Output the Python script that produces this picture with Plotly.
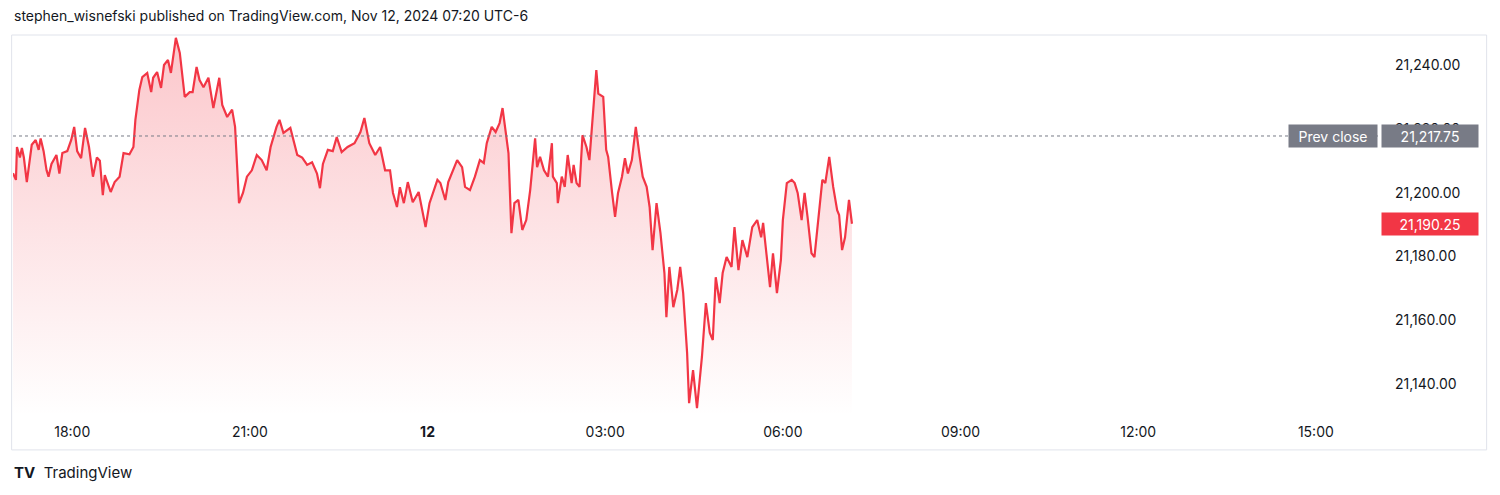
import datetime
import plotly.graph_objects as go

# minutes after Nov 11 17:00 (UTC-6)
minutes = [0, 3, 4, 7, 9, 11, 14, 16, 19, 23, 26, 28, 31, 34, 36, 39, 44, 47, 50, 55,
           59, 62, 65, 69, 73, 77, 81, 85, 88, 91, 93, 99, 103, 108, 112, 118, 122, 124, 128, 131,
           136, 140, 142, 146, 150, 153, 157, 160, 165, 169, 174, 179, 182, 186, 189, 193, 198, 203, 209, 212,
           217, 222, 225, 229, 233, 237, 242, 247, 252, 257, 261, 267, 270, 274, 281, 288, 293, 298, 303, 308,
           311, 314, 319, 324, 328, 333, 339, 346, 352, 356, 361, 367, 372, 377, 382, 385, 389, 392, 396, 400,
           405, 411, 415, 418, 422, 430, 433, 438, 441, 446, 450, 455, 458, 463, 468, 473, 477, 480, 485, 489,
           493, 496, 500, 502, 505, 508, 512, 516, 520, 524, 529, 531, 534, 538, 542, 546, 547, 551, 552, 556,
           559, 562, 566, 568, 571, 574, 577, 581, 584, 587, 591, 593, 598, 601, 603, 607, 610, 613, 617, 620,
           623, 627, 631, 635, 638, 642, 645, 648, 652, 656, 660, 662, 665, 669, 673, 676, 679, 683, 685, 689,
           693, 698, 702, 706, 709, 712, 716, 719, 723, 728, 731, 735, 739, 744, 749, 754, 758, 760, 764, 767,
           770, 774, 778, 780, 784, 789, 792, 795, 799, 802, 805, 809, 812, 816, 820, 823, 827, 831, 835, 837,
           840, 843, 847, 850]
prices = [21206.1, 21204.0, 21214.3, 21211.0, 21214.0, 21211.0, 21203.3, 21208.0, 21215.0, 21216.5,
          21213.4, 21217.0, 21213.0, 21207.0, 21205.0, 21209.0, 21211.8, 21206.0, 21212.4, 21213.0,
          21216.5, 21220.6, 21213.0, 21210.8, 21220.3, 21214.3, 21205.0, 21211.0, 21210.0, 21199.2,
          21205.5, 21200.2, 21203.3, 21205.0, 21212.4, 21212.0, 21214.3, 21222.8, 21232.2, 21236.2,
          21237.5, 21231.5, 21236.0, 21237.8, 21232.8, 21240.0, 21241.6, 21237.5, 21248.5, 21243.8,
          21230.0, 21231.5, 21231.5, 21239.4, 21235.3, 21233.0, 21236.0, 21226.5, 21236.0, 21227.5,
          21223.7, 21226.0, 21220.6, 21196.7, 21199.9, 21205.0, 21207.0, 21211.8, 21210.2, 21207.0,
          21214.3, 21220.6, 21222.8, 21218.7, 21220.3, 21211.8, 21211.0, 21208.7, 21209.5, 21206.0,
          21201.4, 21209.0, 21213.4, 21213.0, 21217.4, 21212.7, 21214.3, 21215.5, 21219.0, 21223.4,
          21215.5, 21211.8, 21214.3, 21207.0, 21207.0, 21199.9, 21195.5, 21201.7, 21196.7, 21203.3,
          21197.0, 21200.2, 21194.5, 21189.2, 21196.7, 21204.0, 21203.0, 21197.7, 21203.3, 21207.0,
          21210.2, 21208.0, 21201.8, 21200.8, 21205.0, 21210.2, 21209.3, 21215.5, 21220.6, 21219.0,
          21221.8, 21226.5, 21217.4, 21212.4, 21187.3, 21196.7, 21197.7, 21188.3, 21191.4, 21200.8,
          21217.0, 21208.0, 21211.2, 21207.0, 21205.0, 21215.5, 21205.0, 21203.0, 21196.7, 21205.0,
          21201.8, 21211.8, 21203.0, 21208.7, 21203.0, 21201.8, 21218.0, 21214.3, 21210.2, 21222.8,
          21238.4, 21231.0, 21230.0, 21213.4, 21211.2, 21199.9, 21192.4, 21199.9, 21205.0, 21210.8,
          21206.0, 21210.2, 21220.6, 21211.2, 21205.0, 21201.8, 21195.5, 21182.0, 21196.7, 21187.3,
          21174.8, 21161.0, 21176.7, 21164.1, 21169.5, 21176.7, 21168.5, 21149.7, 21134.0, 21144.4,
          21132.5, 21148.5, 21165.4, 21156.0, 21153.8, 21173.5, 21165.4, 21174.8, 21179.8, 21176.7,
          21189.2, 21175.7, 21185.1, 21179.8, 21189.2, 21191.4, 21186.0, 21190.5, 21178.9, 21170.4,
          21181.0, 21168.5, 21178.9, 21191.4, 21203.0, 21204.0, 21203.0, 21199.9, 21191.4, 21199.9,
          21192.4, 21181.0, 21179.8, 21192.4, 21204.0, 21203.0, 21211.2, 21201.8, 21194.5, 21193.0,
          21182.0, 21186.0, 21197.7, 21190.25]

prev_close = 21217.75
last_price = 21190.25
y_ticks = [21140, 21160, 21180, 21200, 21220, 21240]
x_tick_labels = ["18:00", "21:00", "<b>12</b>", "03:00", "06:00", "09:00", "12:00", "15:00"]

start = datetime.datetime(2024, 11, 11, 17, 0)
times = [start + datetime.timedelta(minutes=m) for m in minutes]
x_ticks = [datetime.datetime(2024, 11, 11, 18) + datetime.timedelta(hours=3 * i) for i in range(len(x_tick_labels))]

y_lo, y_hi = 21130.0, 21249.4
x_lo = start
x_hi = start + datetime.timedelta(minutes=1385)

red = "#F23645"
font = "Inter, Roboto, sans-serif"

fig = go.Figure()
fig.add_trace(go.Scatter(x=times, y=[y_lo] * len(times), mode="lines",
                         line=dict(width=0), hoverinfo="skip", showlegend=False))
fig.add_trace(go.Scatter(
    x=times, y=prices, mode="lines", line=dict(color=red, width=2.2),
    fill="tonexty",
    fillgradient=dict(type="vertical",
                      colorscale=[[0, "rgba(242,54,69,0.0)"], [1, "rgba(242,54,69,0.28)"]]),
    showlegend=False))

fig.add_shape(type="line", xref="paper", yref="y", x0=0, x1=1, y0=prev_close, y1=prev_close,
              line=dict(color="#787B86", width=1, dash="dot"))
# outer frame
fig.add_shape(type="rect", xref="paper", yref="paper", x0=-0.001, x1=1.078, y0=-0.089, y1=1,
              line=dict(color="#E0E3EB", width=1))

box_font = dict(color="white", size=14, family=font)
fig.add_annotation(xref="paper", yref="y", x=0.9985, y=prev_close, xanchor="right",
                   text="Prev close", showarrow=False, bgcolor="#787B86",
                   font=box_font, width=86, height=20)
fig.add_annotation(xref="paper", yref="y", x=1.001, y=prev_close, xanchor="left",
                   text=f"{prev_close:,.2f}", showarrow=False, bgcolor="#787B86",
                   font=box_font, width=94, height=20)
fig.add_annotation(xref="paper", yref="y", x=1.001, y=last_price, xanchor="left",
                   text=f"{last_price:,.2f}", showarrow=False, bgcolor=red,
                   font=box_font, width=94, height=20)

fig.add_annotation(xref="paper", yref="paper", x=-0.001, y=1.052, xanchor="left", yanchor="middle",
                   text="stephen_wisnefski published on TradingView.com, Nov 12, 2024 07:20 UTC-6",
                   showarrow=False, font=dict(color="#131722", size=14, family=font))
fig.add_annotation(xref="paper", yref="paper", x=-0.001, y=-0.147, xanchor="left", yanchor="middle",
                   text="<b>TV</b>  TradingView", showarrow=False,
                   font=dict(color="#131722", size=15, family=font))

fig.update_layout(
    width=1484, height=479,
    margin=dict(l=5, r=112, t=27, b=71, pad=0, autoexpand=False),
    paper_bgcolor="white", plot_bgcolor="white",
    font=dict(family=font, color="#131722", size=14),
    xaxis=dict(range=[x_lo, x_hi], tickvals=x_ticks, ticktext=x_tick_labels,
               showgrid=False, zeroline=False, showline=False, ticks="", ticklabelstandoff=6),
    yaxis=dict(side="right", range=[y_lo, y_hi], tickvals=y_ticks,
               ticktext=[f"{v:,.2f}" for v in y_ticks], showgrid=False, zeroline=False,
               ticks="", ticklabelstandoff=14),
)

fig.write_html("out.html")
